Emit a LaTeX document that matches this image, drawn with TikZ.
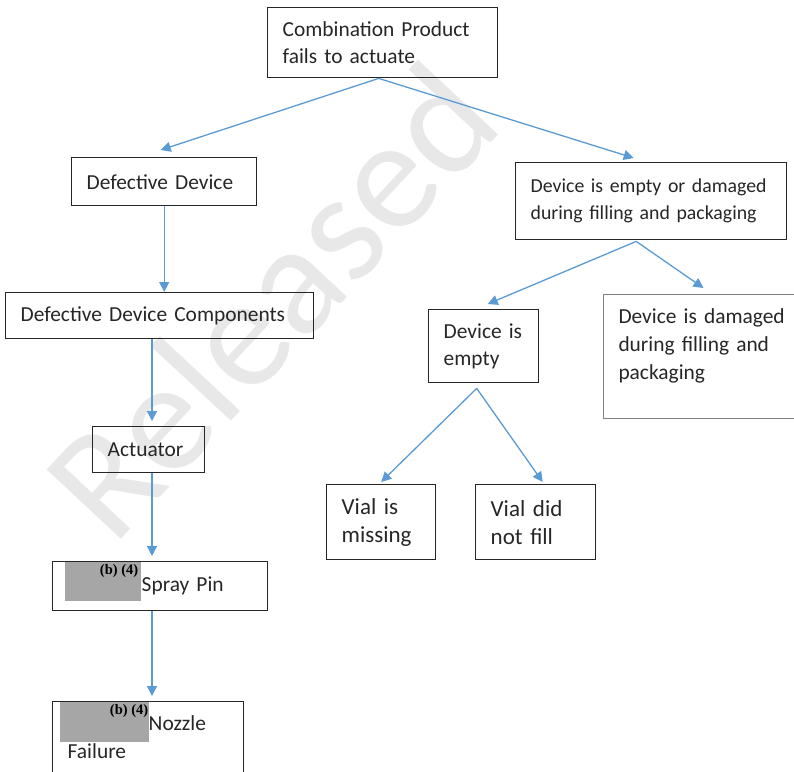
\documentclass[tikz,border=0pt]{standalone}
\usepackage{fontspec}
\setmainfont{Carlito}
\newfontfamily\tagfont{Liberation Serif}
\usetikzlibrary{arrows.meta,positioning,calc}
\definecolor{linkblue}{RGB}{91,155,213}
\definecolor{redact}{RGB}{166,166,166}

\begin{document}
\begin{tikzpicture}[x=1pt,y=-1pt,
  box/.style={draw=black!85, line width=1.4pt, anchor=north west, align=left,
    inner xsep=15pt, inner ysep=0pt, text=black!85,
    font=\fontsize{21.4}{27.5}\selectfont},
  vial/.style={box, font=\fontsize{23}{28}\selectfont},
  link/.style={linkblue, line width=1.3pt, -{Triangle[length=10pt,width=10pt]}},
  cut/.style={fill=redact, draw=none, anchor=north west, inner sep=0pt},
  tag/.style={font=\tagfont\bfseries\fontsize{14.5}{15}\selectfont, inner sep=0pt, anchor=north east}]
\clip (0,0) rectangle (794,771);
\node[rotate=47, text=black!9, font=\fontsize{158}{160}\selectfont] (mark) at (270,300) {Released};

\node[box, text width=200pt, minimum height=70pt] (prod) at (267,7) {Combination Product\\fails to actuate};
\node[box, text width=155pt, minimum height=48pt] (defdev) at (71,157) {Defective Device};
\node[box, text width=241pt, minimum height=77pt, font=\fontsize{19.8}{27}\selectfont] (emptdam) at (515,162) {Device is empty or damaged\\during filling and packaging};
\node[box, text width=278pt, minimum height=46pt] (comp) at (5,292) {Defective Device Components};
\node[box, text width=80pt, minimum height=73pt] (empty) at (428,309) {Device is\\empty};
\node[box, draw=black!50, line width=1pt, text width=170pt, minimum height=124pt, font=\fontsize{21.4}{28}\selectfont] (damaged) at (603,294) {Device is damaged\\during filling and\\packaging\rule[-25pt]{0pt}{0pt}};
\node[box, text width=82pt, minimum height=46pt] (act) at (92,426) {Actuator};
\node[vial, text width=79pt, minimum height=75pt] (missing) at (326,484) {Vial is\\missing};
\node[vial, text width=90pt, minimum height=75pt] (nofill) at (475,484) {Vial did\\not fill};
\node[box, text width=185pt, minimum height=49pt] (spray) at (52,561) {\hspace*{74pt}Spray Pin};
\node[box, text width=161pt, inner ysep=14pt] (nozzle) at (52,701) {\hspace*{81pt}Nozzle\\Failure\rule[-30pt]{0pt}{0pt}};

\node[cut, minimum width=76pt, minimum height=39pt] (cut1) at (65,562) {};
\node[tag] (tag1) at ([xshift=-3pt,yshift=-2pt]cut1.north east) {(b) (4)};
\node[cut, minimum width=89pt, minimum height=40pt] (cut2) at (60,702) {};
\node[tag] (tag2) at ([xshift=-1pt,yshift=-2pt]cut2.north east) {(b) (4)};

\coordinate (spine) at (152,0);
\coordinate (fork1) at ([xshift=-4pt]prod.south);
\coordinate (fork2) at ([xshift=-15pt,yshift=-1pt]emptdam.south);
\coordinate (fork3) at ([xshift=-7pt,yshift=-5pt]empty.south);

\draw[link] (fork1) -- ([xshift=-3.5pt,yshift=7pt]defdev.north);
\draw[link] (fork1) -- ([xshift=-17.5pt,yshift=4pt]emptdam.north);
\draw[link] (defdev.south) -- (defdev.south |- comp.north);
\foreach \a/\b in {comp/act,act/spray,spray/nozzle}
  \draw[link, shorten >=5pt] (\a.south -| spine) -- (\b.north -| spine);
\draw[link] (fork2) -- ([xshift=4pt,yshift=5pt]empty.north);
\draw[link] (fork2) -- ([yshift=6pt]damaged.north);
\draw[link] (fork3) -- ([yshift=2pt]missing.north);
\draw[link] (fork3) -- ([xshift=7pt,yshift=2pt]nofill.north);
\end{tikzpicture}
\end{document}
